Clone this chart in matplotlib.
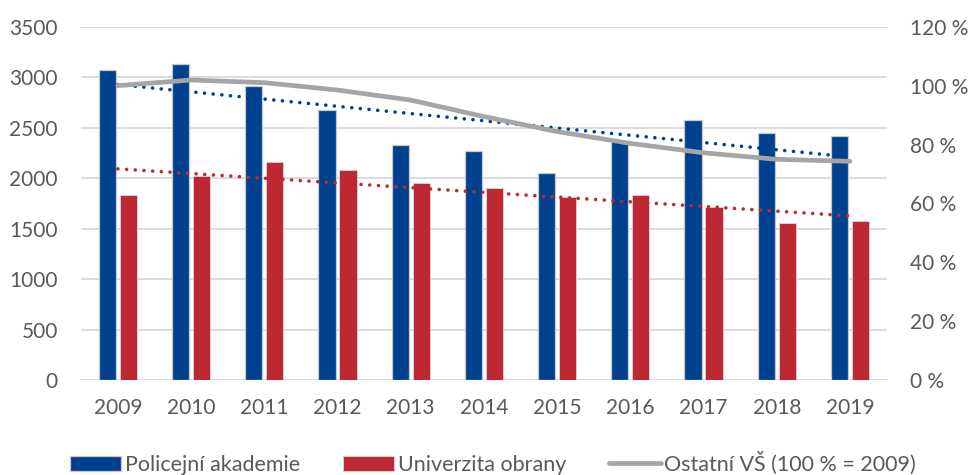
import numpy as np
import matplotlib.pyplot as plt
import matplotlib.ticker as tck

plt.rcParams['font.family'] = ['Lato', 'DejaVu Sans']

roky = ['2009', '2010', '2011', '2012', '2013', '2014', '2015', '2016', '2017', '2018', '2019']
policejni = [3070, 3130, 2910, 2680, 2330, 2265, 2055, 2371, 2579, 2446, 2417]
obrana = [1838, 2025, 2160, 2081, 1956, 1900, 1811, 1834, 1719, 1561, 1577]
ostatni = [100, 101.9, 101.0, 98.5, 95.1, 89.5, 84.4, 80.4, 77.2, 75.0, 74.3]

modra = '#00418F'
cervena = '#BE2833'
seda = '#A5A5A5'
text_c = '#595959'

fig = plt.figure(figsize=(9.7, 4.75), dpi=100)
ax = fig.add_axes([0.0838, 0.1994, 0.8302, 0.7444])
ax2 = ax.twinx()

x = np.arange(len(roky))
w = 0.235
ax.bar(x - 0.143, policejni, w, color=modra, edgecolor='#C8C8C8', linewidth=0.9,
       label='Policejní akademie', zorder=3)
ax.bar(x + 0.143, obrana, w, color=cervena, edgecolor='#D8D8D8', linewidth=0.6,
       label='Univerzita obrany', zorder=3)

# linearni trendy
for data, c in [(policejni, modra), (obrana, cervena)]:
    k, q = np.polyfit(x, data, 1)
    ax.plot(x, k * x + q, color=c, ls=(0, (0.01, 2.4)), lw=2.6, zorder=4,
            dash_capstyle='round')

ax2.plot(x, ostatni, color=seda, lw=3.4, solid_capstyle='round',
         label='Ostatní VŠ (100 % = 2009)', zorder=5)

ax.set_xlim(-0.5, len(roky) - 0.5)
ax.set_ylim(0, 3500)
ax2.set_ylim(0, 120)
ax.yaxis.set_major_locator(tck.MultipleLocator(500))
ax2.yaxis.set_major_locator(tck.MultipleLocator(20))
ax2.yaxis.set_major_formatter(tck.FuncFormatter(lambda v, p: f'{v:.0f} %'))
ax.set_xticks(x)
ax.set_xticklabels(roky)

ax.grid(axis='y', color='#D9D9D9', lw=1.3, zorder=0)
ax.set_axisbelow(True)
for a in (ax, ax2):
    for s in a.spines.values():
        s.set_visible(False)
    a.tick_params(length=0, labelsize=15, colors=text_c)
ax.tick_params(axis='y', pad=17)
ax.tick_params(axis='x', pad=13)
ax2.tick_params(axis='y', pad=17)

h1, l1 = ax.get_legend_handles_labels()
h2, l2 = ax2.get_legend_handles_labels()
leg = fig.legend(h1 + h2, l1 + l2, loc='lower center', ncol=3, frameon=False,
                 bbox_to_anchor=(0.508, -0.04), fontsize=15.5, handlelength=2.4,
                 handletextpad=0.15, columnspacing=2.0)
for t in leg.get_texts():
    t.set_color(text_c)

fig.savefig('out.png', dpi=100)
